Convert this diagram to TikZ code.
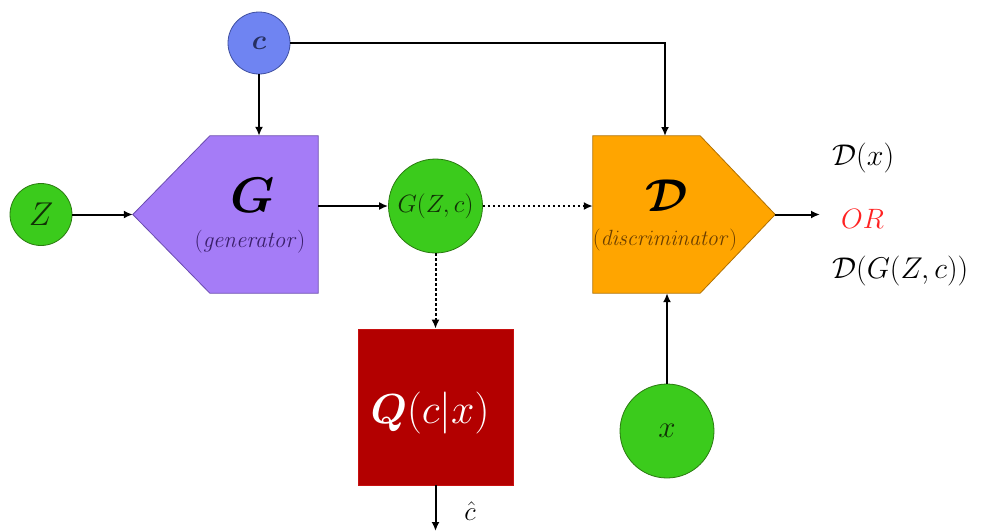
\RequirePackage{fix-cm}
\documentclass[tikz,border=0pt]{standalone}
\usepackage{amsmath,bm}
\usetikzlibrary{arrows.meta}
\definecolor{cblue}{HTML}{6F84F2}
\definecolor{cblueb}{HTML}{3F4FA0}
\definecolor{zgreen}{HTML}{3BCB1C}
\definecolor{zgreenb}{HTML}{2A7A10}
\definecolor{gpurple}{HTML}{A57CF7}
\definecolor{gpurpleb}{HTML}{6A4BB0}
\definecolor{gtext}{HTML}{3A1F6A}
\definecolor{dorange}{HTML}{FFA500}
\definecolor{dorangeb}{HTML}{B07000}
\definecolor{dtext}{HTML}{6B3E00}
\definecolor{qred}{HTML}{B30000}
\definecolor{qredb}{HTML}{C81010}
\definecolor{orred}{HTML}{FF2222}
\newcommand{\fs}[1]{\fontsize{#1}{#1}\selectfont}
\begin{document}
\begin{tikzpicture}[x=1pt,y=-1pt,
  conn/.style={line width=2pt,-{Latex[length=9pt,width=8pt]}},
  dotconn/.style={conn,dash pattern=on 2.5pt off 2.5pt},
  ball/.style={circle,draw,line width=0.8pt,inner sep=0pt},
  blk/.style={rectangle,inner sep=0pt}]
\useasboundingbox (0,0) rectangle (985,531);
% blocks
\node[blk,minimum width=185pt,minimum height=157pt] (G) at (225.5,214.5) {};
\fill[gpurple,draw=gpurpleb,line width=0.8pt] (G.west) -- ([xshift=77pt]G.north west) -- (G.north east) -- (G.south east) -- ([xshift=77pt]G.south west) -- cycle;
\node[blk,minimum width=182pt,minimum height=157pt] (D) at (684,214.5) {};
\fill[dorange,draw=dorangeb,line width=0.8pt] (D.north west) -- ([xshift=-75pt]D.north east) -- (D.east) -- ([xshift=-75pt]D.south east) -- (D.south west) -- cycle;
\node[blk,fill=qred,draw=qredb,line width=0.8pt,minimum width=155pt,minimum height=156pt] (Q) at (435.5,407) {};
% circles
\node[ball,fill=cblue,draw=cblueb,minimum size=62pt] (c) at (259,43) {\fs{28}$\color{cblueb!60!black}\bm{c}$};
\node[ball,fill=zgreen,draw=zgreenb,minimum size=62pt] (Z) at (41,214.5) {\fs{33}$\color{zgreenb!40!black}Z$};
\node[ball,fill=zgreen,draw=zgreenb,minimum size=94pt] (gz) at (435.5,206) {\fs{25}$\color{zgreenb!40!black}G(Z,c)$};
\node[ball,fill=zgreen,draw=zgreenb,minimum size=94pt] (x) at (667,431) {\fs{31}$\color{zgreenb!40!black}x$};
% texts in blocks
\node (Gl) at (253,195) {\fs{50}$\bm{G}$};
\node[text=gtext] (Gs) at (250,242) {\fs{23}$(\mathit{generator})$};
\node (Dl) at (667,196) {\fs{46}$\bm{\mathcal{D}}$};
\node[text=dtext] (Ds) at (665,240) {\fs{22}$(\mathit{discriminator})$};
\node[text=white] (Ql) at (430,413) {\fs{42}$\bm{Q}(c|x)$};
% outputs
\node[anchor=west,inner sep=0pt] (o1) at (832,158) {\fs{30}$\mathcal{D}(x)$};
\node[anchor=west,inner sep=0pt,text=orred] (o2) at (841,219) {\fs{28}$OR$};
\node[anchor=west,inner sep=0pt] (o3) at (832,271) {\fs{30}$\mathcal{D}(G(Z,c))$};
\coordinate (Dtop) at (665,136);
\coordinate (Dout) at (820,214.5);
\coordinate (Qout) at (435.5,531);
\node[inner sep=0pt] (chat) at (470,511) {\fs{27}$\hat{c}$};
% connectors
\draw[conn] (Z) -- (G.west);
\draw[conn] (c) -- (c |- G.north);
\draw[conn] (c) -| (Dtop);
\draw[conn] (gz -| G.east) -- (gz);
\draw[dotconn] (gz) -- (gz -| D.west);
\draw[dotconn] (gz) -- (gz |- Q.north);
\draw[conn] (x) -- (x |- D.south);
\draw[conn] (D.east) -- (Dout);
\draw[conn] (Q.south) -- (Qout);
\end{tikzpicture}
\end{document}
